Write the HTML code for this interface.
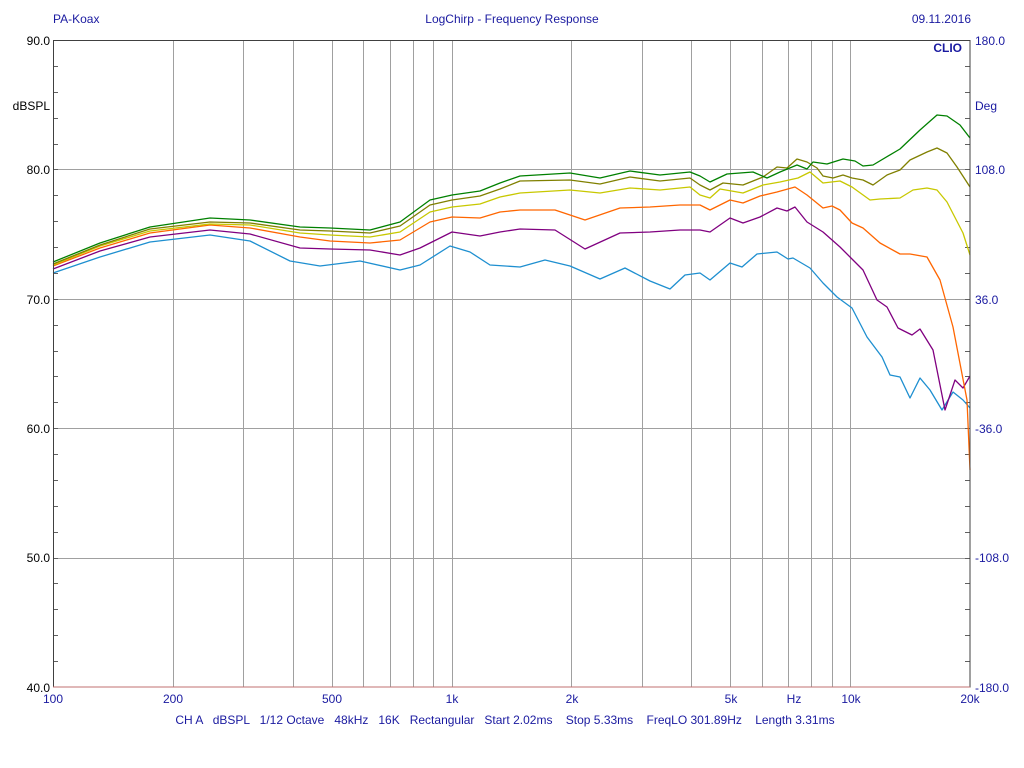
<!DOCTYPE html>
<html><head><meta charset="utf-8"><style>
body{margin:0;background:#fff;}
svg{display:block;font-family:"Liberation Sans",Arial,sans-serif;}
text{white-space:pre;}
</style></head><body>
<svg width="1024" height="768" viewBox="0 0 1024 768" xmlns="http://www.w3.org/2000/svg">
<rect width="1024" height="768" fill="#fff"/>
<g font-size="12" fill="#1a1aa0">
<text x="53" y="23">PA-Koax</text>
<text x="512" y="23" text-anchor="middle">LogChirp - Frequency Response</text>
<text x="971" y="23" text-anchor="end">09.11.2016</text>
<text x="962" y="52" text-anchor="end" font-weight="bold">CLIO</text>
</g>
<g stroke="#a0a0a0" stroke-width="1" id="grid"></g>
<g font-size="12" fill="#000" text-anchor="end">
<text x="50" y="45">90.0</text><text x="50" y="174">80.0</text><text x="50" y="304">70.0</text>
<text x="50" y="433">60.0</text><text x="50" y="562">50.0</text><text x="50" y="692">40.0</text>
<text x="50" y="110">dBSPL</text>
</g>
<g font-size="12" fill="#1a1aa0">
<text x="975" y="45">180.0</text><text x="975" y="174">108.0</text><text x="975" y="304">36.0</text>
<text x="975" y="433">-36.0</text><text x="975" y="562">-108.0</text><text x="975" y="692">-180.0</text>
<text x="975" y="110">Deg</text>
</g>
<g font-size="12" fill="#1a1aa0" text-anchor="middle">
<text x="53" y="703">100</text><text x="173" y="703">200</text><text x="332" y="703">500</text>
<text x="452" y="703">1k</text><text x="572" y="703">2k</text><text x="731" y="703">5k</text>
<text x="794" y="703">Hz</text><text x="851" y="703">10k</text><text x="970" y="703">20k</text>
<text x="505" y="724">CH A   dBSPL   1/12 Octave   48kHz   16K   Rectangular   Start 2.02ms    Stop 5.33ms    FreqLO 301.89Hz    Length 3.31ms</text>
</g>
<g fill="none" stroke-width="1.3" stroke-linejoin="round">
<polyline stroke="#1e8fd0" points="53,273 100,257 150,242 210,235 250,241 290,261 320,266 360,261 400,270 420,265 450,246 470,252 490,265 520,267 545,260 570,266 600,279 625,268 650,281 670,289 685,275 700,273 710,280 730,263 742,267 757,254 777,252 788,259 793,258 810,268 823,283 837,297 852,308 867,337 882,357 890,375 900,377 910,398 920,378 930,390 942,410 953,392 963,400 970,408"/>
<polyline stroke="#800080" points="53,269 100,251 150,237 210,230 250,234 300,248 330,249 370,250 400,255 420,248 452,232 480,236 500,232 520,229 555,230 585,249 620,233 650,232 680,230 700,230 710,232 730,218 743,223 760,217 777,208 787,211 795,207 807,222 823,232 840,247 852,259 863,270 877,300 887,307 898,328 912,335 920,329 933,350 945,410 955,380 963,388 970,376"/>
<polyline stroke="#ff6600" points="53,266 100,248 150,233 210,225 250,228 300,237 330,241 370,243 400,240 430,222 452,217 480,218 500,212 520,210 555,210 585,220 620,208 650,207 680,205 700,205 710,210 730,200 743,203 760,196 777,192 795,187 807,195 823,208 832,206 840,210 852,223 863,228 880,243 900,254 910,254 927,257 940,280 953,327 967,400 970,470"/>
<polyline stroke="#c8c800" points="53,265 100,246 150,231 210,224 250,225 300,233 330,235 370,237 400,232 430,212 452,207 480,204 500,197 520,193 570,190 600,193 630,188 660,190 690,187 700,195 710,198 720,189 743,193 763,185 780,182 798,178 810,172 823,183 840,181 852,187 870,200 880,199 900,198 913,190 927,188 937,190 947,202 963,233 970,255"/>
<polyline stroke="#808000" points="53,264 100,245 150,229 210,222 250,223 300,230 330,231 370,233 400,226 430,205 452,200 480,196 500,189 520,181 570,180 600,184 630,177 660,181 690,178 700,185 710,190 723,183 743,185 763,177 777,167 787,168 797,159 807,162 817,168 823,176 833,178 843,175 852,178 863,180 873,185 887,175 900,170 910,160 927,152 937,148 947,153 957,167 970,187"/>
<polyline stroke="#008000" points="53,262 100,243 150,227 210,218 250,220 300,227 330,228 370,230 400,222 430,200 452,195 480,191 500,183 520,176 570,173 600,178 630,171 660,175 690,172 700,176 710,182 727,174 753,172 767,178 780,172 797,165 807,169 813,162 827,164 843,159 855,161 863,166 873,165 900,149 920,130 937,115 947,116 960,125 970,138"/>
</g>
<rect x="53.5" y="40.5" width="916.5" height="646.5" fill="none" stroke="#404040" stroke-width="1"/>
<line x1="53" y1="687" x2="970" y2="687" stroke="#c07070" stroke-width="1"/>
<script>
var g=document.getElementById('grid'),ns='http://www.w3.org/2000/svg';
function L(x1,y1,x2,y2,c){var l=document.createElementNS(ns,'line');l.setAttribute('x1',x1);l.setAttribute('y1',y1);l.setAttribute('x2',x2);l.setAttribute('y2',y2);if(c)l.setAttribute('stroke',c);g.appendChild(l);}
var fs=[200,300,400,500,600,700,800,900,1000,2000,3000,4000,5000,6000,7000,8000,9000,10000];
fs.forEach(function(f){var x=Math.round(53+398.5*Math.log10(f/100))+0.5;L(x,40,x,687);});
[80,70,60,50].forEach(function(d){var y=Math.round(40+(90-d)*12.94)+0.5;L(53,y,970,y);});
for(var d=88;d>40;d-=2){var y=Math.round(40+(90-d)*12.94)+0.5;L(53,y,58,y,'#606060');L(965,y,970,y,'#606060');}
</script>
</svg>
</body></html>
